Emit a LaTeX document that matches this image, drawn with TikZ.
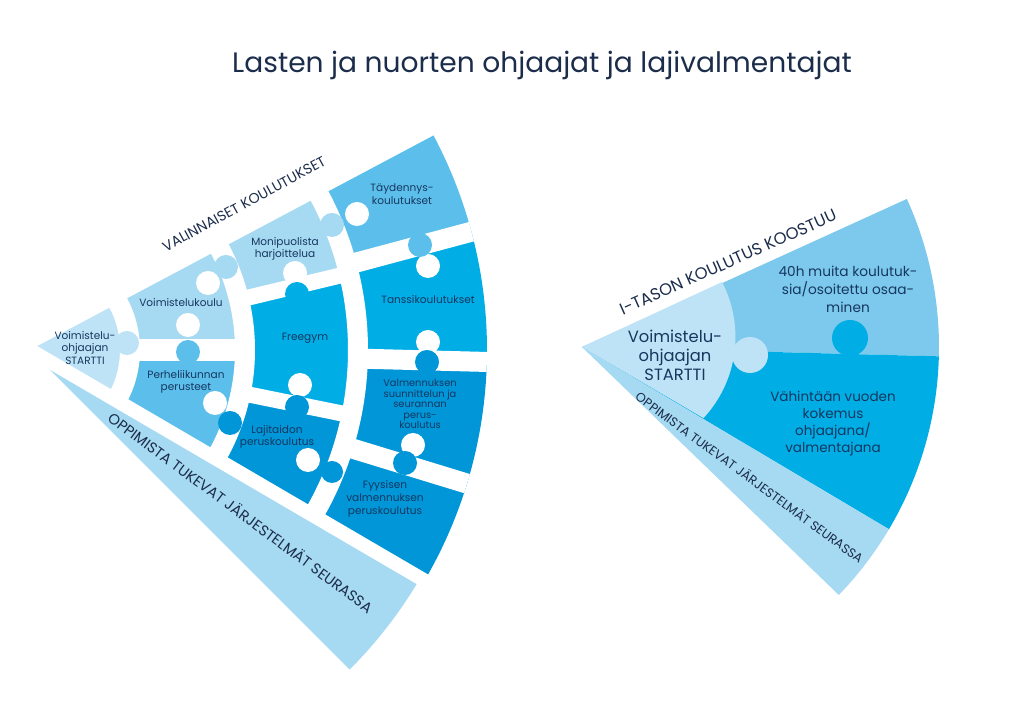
\documentclass[tikz,border=0pt]{standalone}
\usepackage{fontspec}
\setmainfont{Poppins}
\usepackage{tikz}

\definecolor{titlenavy}{RGB}{27,45,75}
\definecolor{labelnavy}{RGB}{22,55,95}
\definecolor{startcol}{RGB}{191,227,246}
\definecolor{lightcol}{RGB}{166,217,242}
\definecolor{midcol}{RGB}{92,191,235}
\definecolor{cyancol}{RGB}{0,173,229}
\definecolor{darkcol}{RGB}{0,150,216}
\definecolor{bandcol}{RGB}{166,217,242}
\definecolor{upcol}{RGB}{124,201,237}

% one cell of a fan: centre, colour, from angle, to angle, inner r, outer r
\newcommand{\fancell}[6]{%
  \fill[#2] ([shift={(#3:#5)}]#1) arc[start angle=#3,end angle=#4,radius=#5]
    -- ([shift={(#4:#6)}]#1) arc[start angle=#4,end angle=#3,radius=#6] -- cycle;}

\begin{document}
\begin{tikzpicture}[x=0.02cm,y=0.02cm,
  gap/.style={white,line width=0.4cm},
  thingap/.style={white,line width=0.32cm},
  piece/.style={font=\fontsize{6}{7.2}\selectfont,text=labelnavy,align=center,inner sep=0pt},
  caps/.style={text=titlenavy,inner sep=0pt}]
\useasboundingbox (0,0) rectangle (1024,723);
\coordinate (CL) at (30,373);
\coordinate (CR) at (582,376);

% Title
\node[font=\fontsize{16}{19}\selectfont,text=titlenavy] (title) at (542,658)
  {Lasten ja nuorten ohjaajat ja lajivalmentajat};

% Left fan: band and puzzle rings
\fancell{CL}{bandcol}{-45}{-30.3}{0.01}{452}
\fancell{CL}{startcol}{-30.3}{28}{0.01}{100}
\fancell{CL}{lightcol}{0}{28}{100}{215}
\fancell{CL}{midcol}{-30.3}{0}{100}{215}
\fancell{CL}{lightcol}{13.5}{28}{215}{328}
\fancell{CL}{cyancol}{-11.5}{13.5}{215}{328}
\fancell{CL}{darkcol}{-30.3}{-11.5}{215}{328}
\fancell{CL}{midcol}{15}{28}{328}{457}
\fancell{CL}{cyancol}{-1.5}{15}{328}{457}
\fancell{CL}{darkcol}{-17}{-1.5}{328}{457}
\fancell{CL}{darkcol}{-30.3}{-17}{328}{457}

% White gaps between the pieces
\foreach \r in {100,215,328}
  \draw[gap] ([shift={(-31:\r)}]CL) arc[start angle=-31,end angle=29,radius=\r];
\draw[gap,line width=0.28cm] (CL) -- ([shift={(-30.3:475)}]CL);
\draw[gap,line width=0.44cm] ([shift={(0:100)}]CL) -- ([shift={(0:215)}]CL);
\foreach \a in {13.5,-11.5}
  \draw[thingap] ([shift={(\a:215)}]CL) -- ([shift={(\a:328)}]CL);
\foreach \a in {15,-1.5,-17}
  \draw[gap] ([shift={(\a:328)}]CL) -- ([shift={(\a:457)}]CL);

% Holes and knobs
\foreach \p in {(188,398),(208,440),(357,509),(428,457),(295,450),
                (428,381),(300,338),(215,320),(308,263),(413,278)}
  \fill[white] \p circle[radius=12];
\fill[startcol] (127,380) circle[radius=12];
\fill[midcol] (188,371) circle[radius=12];
\fill[lightcol] (226,456) circle[radius=12];
\fill[lightcol] (332,498) circle[radius=12];
\fill[midcol] (420,478) circle[radius=12];
\fill[cyancol] (297,429) circle[radius=12];
\fill[darkcol] (427,361) circle[radius=12];
\fill[darkcol] (297,316) circle[radius=12];
\fill[darkcol] (230,300) circle[radius=12];
\fill[darkcol] (332,251) circle[radius=11];
\fill[darkcol] (405,260) circle[radius=12];

% Left fan texts
\node[caps,font=\fontsize{8.1}{9}\selectfont,rotate=28.5] (valinn) at (244,519) {VALINNAISET KOULUTUKSET};
\node[caps,font=\fontsize{8.4}{9}\selectfont,rotate=-36.6] (oppimistaL) at (241,211) {OPPIMISTA TUKEVAT JÄRJESTELMÄT SEURASSA};
\node[piece] (startL) at (85,375) {Voimistelu-\\ohjaajan\\STARTTI};
\node[piece] (vkoulu) at (181,420) {Voimistelukoulu};
\node[piece] (monip) at (285,474) {Monipuolista\\harjoittelua};
\node[piece] (taydennys) at (402,529) {Täydennys-\\koulutukset};
\node[piece] (perhe) at (186,341) {Perheliikunnan\\perusteet};
\node[piece] (freegym) at (305,385) {Freegym};
\node[piece] (tanssi) at (428,423) {Tanssikoulutukset};
\node[piece,font=\fontsize{5.6}{6}\selectfont] (valmsuun) at (420,319) {Valmennuksen\\suunnittelun ja\\seurannan\\perus-\\koulutus};
\node[piece] (lajitaito) at (277,286) {Lajitaidon\\peruskoulutus};
\node[piece] (fyysinen) at (385,224) {Fyysisen\\valmennuksen\\peruskoulutus};

% Right fan
\fancell{CR}{upcol}{-1.5}{24.5}{0.01}{357}
\fancell{CR}{cyancol}{-30.7}{-1.5}{0.01}{357}
\fancell{CR}{bandcol}{-44}{-30.7}{0.01}{357}
\fill[startcol] (CR) -- (722,441) arc[start angle=27.5,end angle=-43,radius=119] -- cycle;
\fill[startcol] (750,368) circle[radius=18];
\fill[cyancol] (850,385) circle[radius=18];

% Right fan texts
\node[caps,font=\fontsize{9.4}{10}\selectfont,rotate=24] (itaso) at (728,461) {I-TASON KOULUTUS KOOSTUU};
\node[caps,font=\fontsize{7.2}{8}\selectfont,rotate=-36.3] (oppimistaR) at (750,246) {OPPIMISTA TUKEVAT JÄRJESTELMÄT SEURASSA};
\node[piece,font=\fontsize{9.3}{10.8}\selectfont] (startR) at (675,368) {Voimistelu-\\ohjaajan\\STARTTI};
\node[piece,font=\fontsize{7.8}{10.2}\selectfont] (muita) at (848,434) {40h muita koulutuk-\\sia/osoitettu osaa-\\minen};
\node[piece,font=\fontsize{7.7}{9.7}\selectfont] (vahintaan) at (833,299) {Vähintään vuoden\\kokemus\\ohjaajana/\\valmentajana};
\end{tikzpicture}
\end{document}
